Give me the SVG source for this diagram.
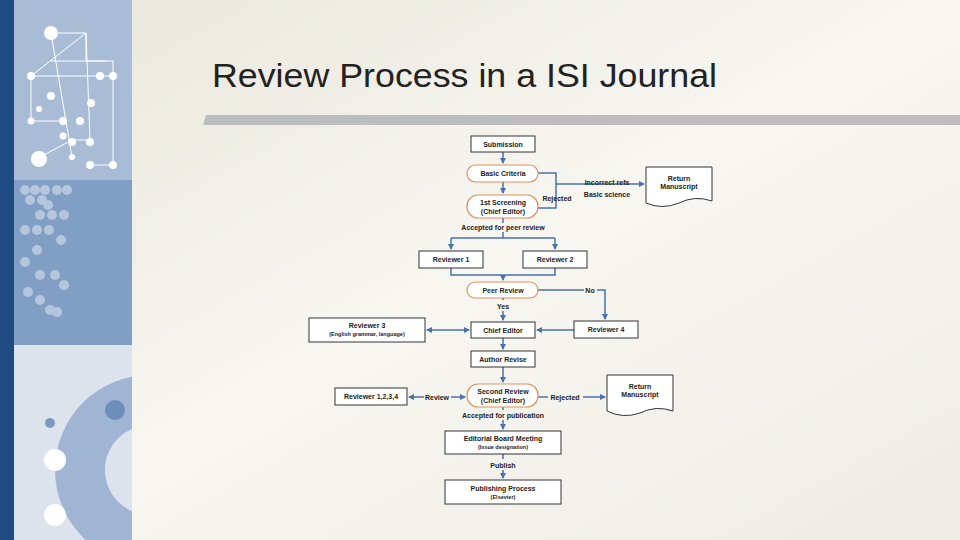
<svg xmlns="http://www.w3.org/2000/svg" width="960" height="540" viewBox="0 0 960 540">
<defs>
<marker id="ar" markerWidth="6" markerHeight="6" refX="5" refY="3" orient="auto" markerUnits="userSpaceOnUse"><path d="M0,0 L6,3 L0,6 z" fill="#4a72aa"/></marker>
<marker id="as" markerWidth="6" markerHeight="6" refX="1" refY="3" orient="auto" markerUnits="userSpaceOnUse"><path d="M6,0 L0,3 L6,6 z" fill="#4a72aa"/></marker>
<linearGradient id="bg" x1="0" y1="0" x2="1" y2="1"><stop offset="0" stop-color="#e8e6da"/><stop offset="0.5" stop-color="#f7f6f1"/><stop offset="1" stop-color="#eeece4"/></linearGradient>
<clipPath id="cp"><rect x="14" y="345" width="118" height="195"/></clipPath>
</defs>
<style>
.b{fill:#fff;stroke:#333;stroke-width:1}
.r{fill:#fff;stroke:#e0905a;stroke-width:1.2}
.t{font-family:"Liberation Sans",Arial,sans-serif;font-size:7px;font-weight:bold;fill:#222;text-anchor:middle}
.s{font-size:5.5px}
.c{fill:none;stroke:#4a72aa;stroke-width:1.5}
</style>
<rect width="960" height="540" fill="url(#bg)"/>
<g id="sidebar">
<rect x="0" y="0" width="14" height="540" fill="#1f4a82"/>
<rect x="14" y="0" width="118" height="180" fill="#a9bcd6"/>
<rect x="14" y="180" width="118" height="165" fill="#819ec4"/>
<rect x="14" y="345" width="118" height="195" fill="#dce3ed"/>
<g stroke="#fff" stroke-width="1" fill="none">
<path d="M51,33 L86,33 L86,61 L113,61 L113,165 L90,165 M31,76 L113,76 M31,76 L31,121 L63,121 M40,157 L72,140 L90,140 M31,76 L86,33 M51,33 L72,157 M86,33 L90,140 M51,61 L106,61"/>
</g>
<g fill="#fff">
<circle cx="51" cy="33" r="7"/><circle cx="31" cy="76" r="4"/><circle cx="100" cy="76" r="4"/><circle cx="113" cy="76" r="4"/><circle cx="51" cy="96" r="4"/><circle cx="91" cy="103" r="4"/><circle cx="39" cy="109" r="3"/><circle cx="31" cy="121" r="3.5"/><circle cx="63" cy="121" r="4"/><circle cx="80" cy="121" r="4"/><circle cx="63" cy="136" r="3.5"/><circle cx="72" cy="142" r="4"/><circle cx="90" cy="142" r="4"/><circle cx="39" cy="159" r="8"/><circle cx="72" cy="157" r="3"/><circle cx="90" cy="165" r="4"/><circle cx="113" cy="165" r="4"/>
</g>
<g fill="#c3d0e3" opacity="0.8">
<circle cx="25" cy="190" r="5"/><circle cx="35" cy="190" r="5"/><circle cx="45" cy="190" r="5"/><circle cx="57" cy="190" r="5"/><circle cx="67" cy="190" r="5"/><circle cx="30" cy="200" r="5"/><circle cx="42" cy="200" r="5"/><circle cx="48" cy="205" r="5"/><circle cx="40" cy="215" r="5"/><circle cx="52" cy="215" r="5"/><circle cx="64" cy="215" r="5"/><circle cx="25" cy="230" r="5"/><circle cx="37" cy="230" r="5"/><circle cx="49" cy="230" r="5"/><circle cx="61" cy="240" r="5"/><circle cx="37" cy="250" r="5"/><circle cx="25" cy="262" r="5"/><circle cx="40" cy="275" r="5"/><circle cx="55" cy="275" r="5"/><circle cx="64" cy="285" r="5"/><circle cx="28" cy="292" r="5"/><circle cx="40" cy="300" r="5"/><circle cx="50" cy="310" r="5"/><circle cx="57" cy="312" r="5"/>
</g>
<g clip-path="url(#cp)">
<circle cx="150" cy="470" r="95" fill="#9fb5d3"/>
<circle cx="150" cy="470" r="45" fill="#dce3ed"/>
<circle cx="115" cy="410" r="10" fill="#6d8dbb"/><circle cx="50" cy="423" r="5" fill="#7a98c0"/>
<circle cx="55" cy="460" r="11" fill="#fff"/><circle cx="55" cy="515" r="11" fill="#fff"/>
</g>
</g>
<text x="212" y="87" font-family="Liberation Sans,Arial,sans-serif" font-size="33" fill="#222" textLength="505" lengthAdjust="spacingAndGlyphs">Review Process in a ISI Journal</text>
<path d="M206,115 L960,115 L960,125 L203,125 Z" fill="#bdbdbd"/>
<g id="connectors">
<path class="c" d="M503,152 V163" marker-end="url(#ar)"/>
<path class="c" d="M503,182 V193" marker-end="url(#ar)"/>
<path class="c" d="M538,173 H556 V208 H538 M556,184 H644" marker-end="url(#ar)"/>
<path class="c" d="M503,218 V223 M503,232 V238 M451,238 H555"/>
<path class="c" d="M451,238 V249" marker-end="url(#ar)"/>
<path class="c" d="M555,238 V249" marker-end="url(#ar)"/>
<path class="c" d="M451,268 V275 H555 V268 M503,275 V280" marker-end="url(#ar)"/>
<path class="c" d="M538,290 H584 M597,290 H605 V319" marker-end="url(#ar)"/>
<path class="c" d="M503,298 V300 M503,311 V320" marker-end="url(#ar)"/>
<path class="c" d="M427,330 H469" marker-start="url(#as)" marker-end="url(#ar)"/>
<path class="c" d="M574,330 H537" marker-end="url(#ar)"/>
<path class="c" d="M503,338 V349" marker-end="url(#ar)"/>
<path class="c" d="M503,367 V382" marker-end="url(#ar)"/>
<path class="c" d="M424,397 H409" marker-end="url(#ar)"/>
<path class="c" d="M451,397 H465" marker-end="url(#ar)"/>
<path class="c" d="M538,397 H548 M583,397 H605" marker-end="url(#ar)"/>
<path class="c" d="M503,407 V410 M503,420 V429" marker-end="url(#ar)"/>
<path class="c" d="M503,454 V459 M503,470 V478" marker-end="url(#ar)"/>
</g>
<g id="labels" class="t">
<text x="607" y="185">Incorrect refs</text>
<text x="607" y="197">Basic science</text>
<text x="557" y="201">Rejected</text>
<text x="503" y="230">Accepted for peer review</text>
<text x="590" y="293">No</text>
<text x="503" y="309">Yes</text>
<text x="437" y="400">Review</text>
<text x="565" y="400">Rejected</text>
<text x="503" y="418">Accepted for publication</text>
<text x="503" y="468">Publish</text>
</g>
<g id="submission"><rect class="b" x="471" y="136" width="64" height="16"/><text class="t" x="503" y="146.5">Submission</text></g>
<g id="basic"><rect class="r" x="467" y="165" width="71" height="17" rx="8.5"/><text class="t" x="503" y="176">Basic Criteria</text></g>
<g id="screening"><rect class="r" x="467" y="195" width="71" height="23" rx="11"/><text class="t" x="503" y="205">1st Screening</text><text class="t" x="503" y="214">(Chief Editor)</text></g>
<g id="return1"><path class="b" d="M646,167 H712 V201 Q695,195 679,203 Q662,210 646,203 Z"/><text class="t" x="679" y="181">Return</text><text class="t" x="679" y="189">Manuscript</text></g>
<g id="rev1"><rect class="b" x="419" y="251" width="64" height="17"/><text class="t" x="451" y="262">Reviewer 1</text></g>
<g id="rev2"><rect class="b" x="523" y="251" width="64" height="17"/><text class="t" x="555" y="262">Reviewer 2</text></g>
<g id="peer"><rect class="r" x="467" y="282" width="71" height="16" rx="8"/><text class="t" x="503" y="292.5">Peer Review</text></g>
<g id="rev3"><rect class="b" x="309" y="318" width="116" height="24"/><text class="t" x="367" y="328">Reviewer 3</text><text class="t s" x="367" y="336">(English grammar, language)</text></g>
<g id="chief"><rect class="b" x="471" y="322" width="64" height="16"/><text class="t" x="503" y="332.5">Chief Editor</text></g>
<g id="rev4"><rect class="b" x="574" y="321" width="64" height="17"/><text class="t" x="606" y="332">Reviewer 4</text></g>
<g id="author"><rect class="b" x="471" y="351" width="64" height="16"/><text class="t" x="503" y="361.5">Author Revise</text></g>
<g id="second"><rect class="r" x="467" y="384" width="71" height="23" rx="11"/><text class="t" x="503" y="394">Second Review</text><text class="t" x="503" y="403">(Chief Editor)</text></g>
<g id="rev1234"><rect class="b" x="335" y="388" width="72" height="17"/><text class="t" x="371" y="399">Reviewer 1,2,3,4</text></g>
<g id="return2"><path class="b" d="M607,375 H673 V411 Q656,405 640,413 Q623,419 607,411 Z"/><text class="t" x="640" y="389">Return</text><text class="t" x="640" y="397">Manuscript</text></g>
<g id="board"><rect class="b" x="445" y="431" width="116" height="23"/><text class="t" x="503" y="441">Editorial Board Meeting</text><text class="t s" x="503" y="449">(Issue designation)</text></g>
<g id="publishing"><rect class="b" x="445" y="480" width="116" height="24"/><text class="t" x="503" y="491">Publishing Process</text><text class="t s" x="503" y="499">(Elsevier)</text></g>
</svg>
